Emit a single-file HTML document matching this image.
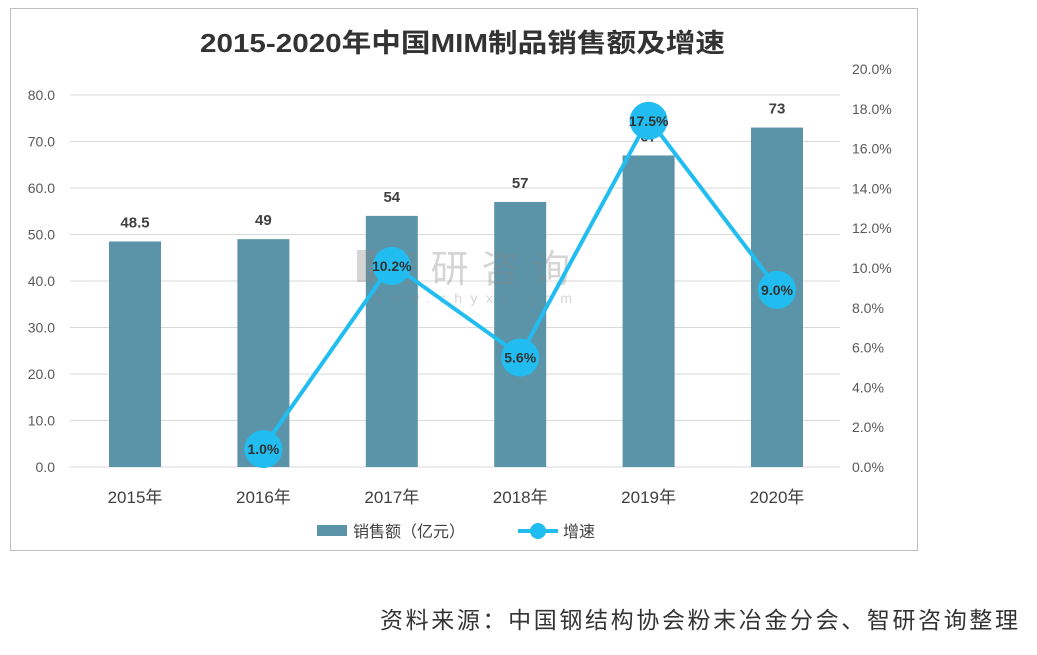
<!DOCTYPE html>
<html><head><meta charset="utf-8">
<style>
body{margin:0;background:#fff;width:1037px;height:650px;overflow:hidden;font-family:"Liberation Sans","Noto Sans CJK SC",sans-serif;}
svg text{font-family:"Liberation Sans","Noto Sans CJK SC",sans-serif;}
</style></head><body>
<svg id="chart" width="1037" height="650" xmlns="http://www.w3.org/2000/svg">
<rect x="10.5" y="8.5" width="907" height="542" fill="#fff" stroke="#bfbfbf"/>
<text x="200" y="52" font-size="26" font-weight="bold" fill="#333" textLength="525" lengthAdjust="spacingAndGlyphs">2015-2020年中国MIM制品销售额及增速</text>
<g id="grid"></g><g id="bars"></g>
<g opacity="0.35">
<rect x="357" y="250" width="18" height="32" fill="#888"/>
<text x="380" y="282" font-size="38" fill="#888" textLength="190">智研咨询</text>
<text x="372" y="303" font-size="14" fill="#888" textLength="200">www.chyxx.com</text>
</g>
<g id="line"></g><g id="labels"></g>
<text x="380" y="628" font-size="23" fill="#333" textLength="638">资料来源：中国钢结构协会粉末冶金分会、智研咨询整理</text>
</svg>
<script>
const categories=["2015年","2016年","2017年","2018年","2019年","2020年"];
const sales=[48.5,49,54,57,67,73];
const growth=[null,1.0,10.2,5.6,17.5,9.0];
const leftTicks=[0,10,20,30,40,50,60,70,80];
const rightTicks=[0,2,4,6,8,10,12,14,16,18,20];
const NS="http://www.w3.org/2000/svg";
const y0=467;
const yL=v=>y0-v*4.65;
const yR=v=>y0-v*19.9;
const xC=i=>135+i*128.4;
function mk(tag,attrs,parent,txt){const e=document.createElementNS(NS,tag);for(const k in attrs)e.setAttribute(k,attrs[k]);if(txt!=null)e.textContent=txt;(typeof parent==='string'?document.getElementById(parent):parent).appendChild(e);return e;}
const svg=document.getElementById('chart');
leftTicks.forEach(t=>{
 const l=mk('line',{x1:70,x2:840,y1:yL(t),y2:yL(t),stroke:'#d9d9d9'},'grid');
 
 
 const tx=mk('text',{x:55,y:yL(t)+5,'text-anchor':'end','font-size':14,fill:'#595959'},'grid',t.toFixed(1));
 
 
});
rightTicks.forEach(t=>{
 const tx=mk('text',{x:852,y:yR(t)+5,'font-size':14,fill:'#595959'},'grid',t.toFixed(1)+'%');
 
 
});
categories.forEach((c,i)=>{
 const r=mk('rect',{x:xC(i)-26,y:yL(sales[i]),width:52,height:y0-yL(sales[i]),fill:'#5b93a8'},'bars');
 
 
 const v=mk('text',{x:xC(i),y:yL(sales[i])-14,'text-anchor':'middle','font-size':15,'font-weight':'bold',fill:'#404040'},'bars',String(sales[i]));
 
 
 const t=mk('text',{x:xC(i),y:503,'text-anchor':'middle','font-size':17,fill:'#404040'},'bars',c);
 
 
});
const pts=[];growth.forEach((g,i)=>{if(g!=null)pts.push([xC(i),yR(g),g]);});
const pl=mk('polyline',{points:pts.map(p=>p[0]+','+p[1]).join(' '),fill:'none',stroke:'#22bdf0','stroke-width':4},'line');


pts.forEach(p=>{
 const c=mk('circle',{cx:p[0],cy:p[1]+2,r:19,fill:'#22bdf0'},'line');
 
 
 const t=mk('text',{x:p[0],y:p[1]+7,'text-anchor':'middle','font-size':14,'font-weight':'bold',fill:'#333'},'labels',p[2].toFixed(1)+'%');
 
 
});
const lg=mk('g',{},svg);


const l1=mk('rect',{x:317,y:525,width:30,height:11,fill:'#5b93a8'},lg);


const l1t=mk('text',{x:353,y:537,'font-size':16,fill:'#404040'},lg,'销售额（亿元）');


const l2=mk('line',{x1:518,x2:558,y1:531,y2:531,stroke:'#22bdf0','stroke-width':4},lg);


const l2c=mk('circle',{cx:538,cy:531,r:8,fill:'#22bdf0'},lg);


const l2t=mk('text',{x:563,y:537,'font-size':16,fill:'#404040'},lg,'增速');


</script>
</body></html>
